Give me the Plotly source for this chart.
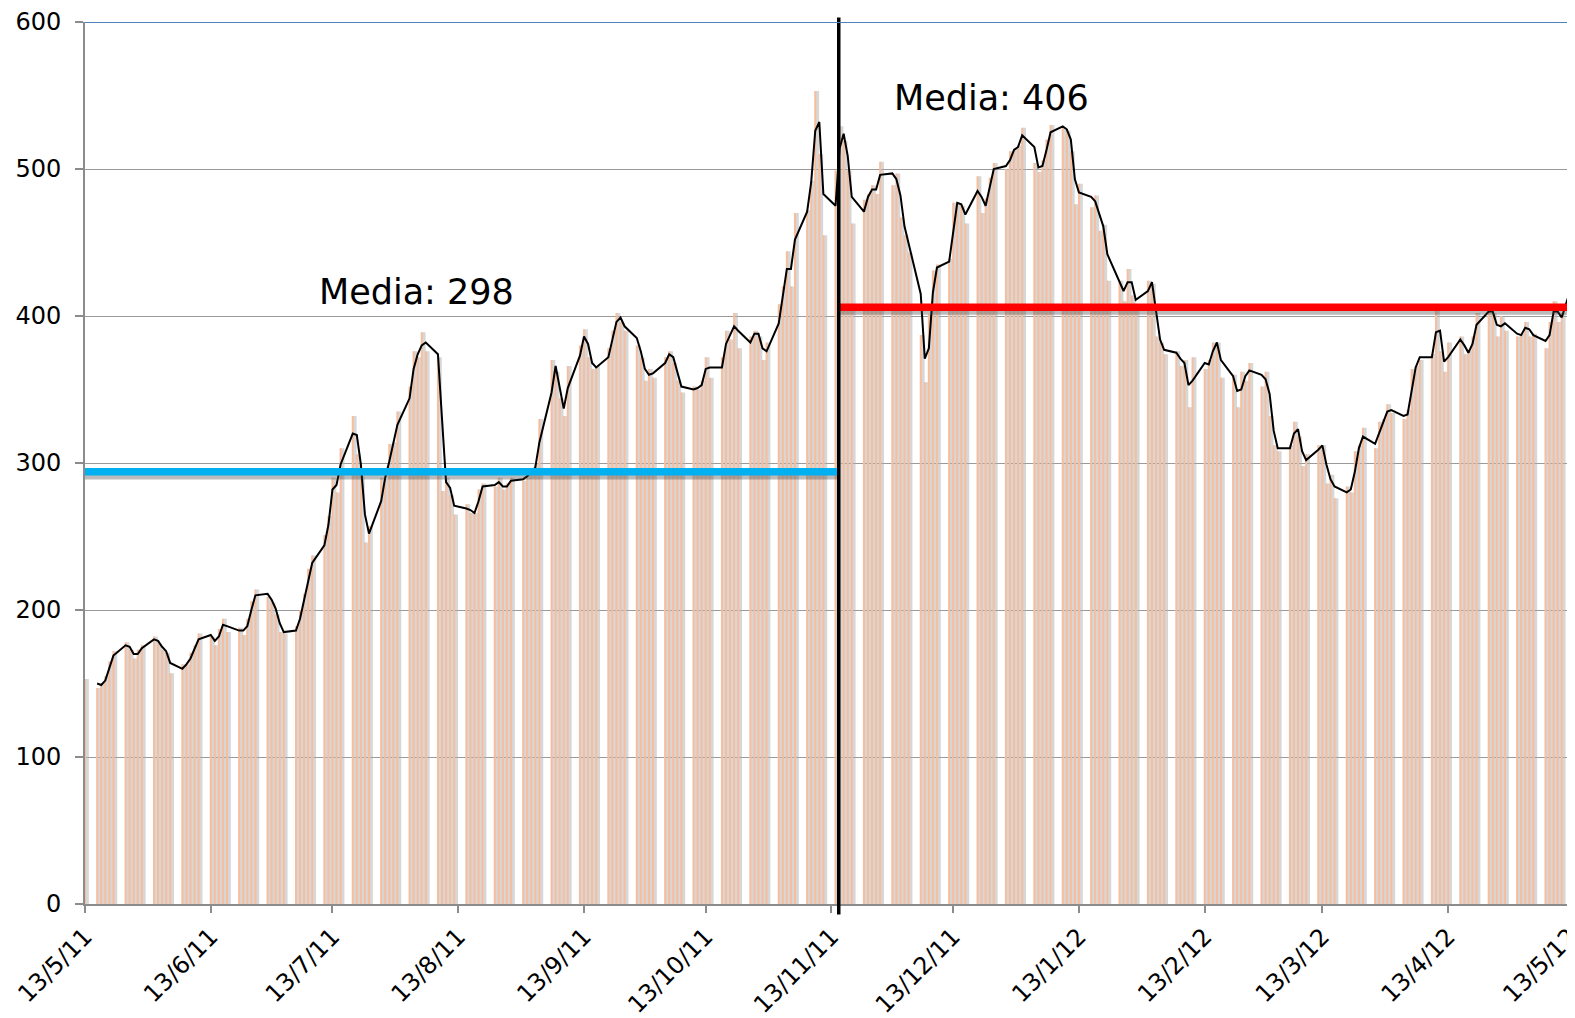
import pandas as pd
import plotly.graph_objects as go

# ---------------- data ----------------
# one value per trading day (Mon-Fri), 13/5/11 .. 14/5/12
bars_2011 = [
    153,
    147, 150, 155, 165, 172,
    178, 173, 167, 173, 176,
    182, 177, 173, 171, 157,
    163, 163, 171, 176, 184,
    182, 176, 187, 194, 185,
    188, 183, 194, 206, 214,
    209, 205, 197, 185, 184,
    189, 200, 211, 228, 237,
    251, 264, 290, 280, 310,
    332, 306, 291, 246, 257,
    290, 289, 313, 314, 335,
    352, 376, 372, 389, 376,
    372, 281, 290, 278, 265,
    272, 266, 266, 282, 286,
    284, 290, 282, 286, 290,
    288, 293, 296, 300, 330,
    370, 362, 344, 332, 366,
    380, 391, 372, 364, 366,
    378, 390, 402, 396, 390,
    380, 372, 356, 364, 358,
    372, 376, 368, 356, 348,
    352, 350, 356, 372, 358,
    372, 390, 384, 402, 378,
    386, 390, 386, 370, 382,
    408, 420, 444, 420, 470,
    472, 492, 553, 510, 455,
]
bars_2012 = [
    499, 529, 519, 499, 463,
    479, 483, 489, 483, 505,
    489, 497, 467, 455, 443,
    387, 355, 401, 431, 435,
    439, 477, 477, 475, 463,
    495, 470, 480, 494, 504,
    500, 512, 514, 516, 528,
    504, 498, 506, 520, 530,
    528, 526, 512, 476, 490,
    474, 482, 458, 462, 424,
    424, 410, 432, 414, 408,
    424, 422, 386, 382, 374,
    376, 366, 370, 338, 372,
    364, 370, 382, 382, 358,
    360, 338, 362, 356, 368,
    352, 362, 332, 312, 308,
    312, 328, 318, 298, 306,
    312, 312, 286, 292, 276,
    284, 280, 308, 312, 324,
    310, 328, 330, 340, 334,
    330, 336, 364, 366, 370,
    374, 404, 376, 362, 382,
    386, 374, 376, 386, 402,
    404, 402, 386, 400, 390,
    386, 388, 396, 386, 388,
    378, 396, 410, 396, 402,
    440,
]
# black trend line (2-day moving average as drawn in the chart)
trend_2011 = [
    None,
    150, 149, 152, 160, 169,
    176, 175, 170, 170, 174,
    180, 179, 175, 172, 164,
    160, 163, 167, 174, 180,
    183, 179, 182, 190, 189,
    186, 186, 189, 200, 210,
    211, 207, 201, 191, 185,
    186, 194, 206, 219, 232,
    244, 258, 282, 285, 299,
    320, 319, 299, 265, 252,
    274, 290, 301, 313, 326,
    344, 364, 374, 380, 382,
    374, 330, 287, 283, 271,
    269, 268, 266, 274, 284,
    285, 287, 284, 284, 288,
    289, 291, 294, 297, 314,
    348, 366, 352, 337, 351,
    373, 386, 381, 368, 365,
    372, 384, 396, 399, 393,
    385, 376, 364, 360, 361,
    368, 374, 372, 362, 352,
    350, 351, 353, 364, 365,
    365, 381, 387, 393, 390,
    382, 388, 388, 378, 376,
    395, 413, 432, 432, 452,
    471, 491, 526, 532, 483,
]
trend_2012 = [
    475, 514, 524, 509, 481,
    471, 481, 486, 486, 496,
    497, 493, 482, 461, 449,
    415, 371, 378, 416, 433,
    437, 458, 477, 476, 469,
    485, 481, 475, 488, 500,
    502, 506, 513, 515, 523,
    515, 501, 502, 513, 525,
    529, 527, 520, 493, 484,
    481, 478, 470, 461, 442,
    424, 417, 423, 423, 411,
    417, 423, 403, 384, 377,
    375, 371, 368, 353, 356,
    368, 367, 376, 382, 370,
    359, 349, 350, 359, 363,
    360, 357, 347, 322, 310,
    310, 320, 323, 308, 302,
    309, 312, 299, 289, 284,
    280, 282, 294, 310, 318,
    313, 320, 328, 335, 336,
    332, 333, 350, 365, 372,
    372, 389, 390, 369, 372,
    384, 380, 375, 381, 394,
    403, 403, 394, 393, 395,
    388, 387, 392, 391, 387,
    383, 387, 403, 403, 399,
    425,
]

first_day = "2011-05-13"
last_day = "2012-05-14"
split_day = "2011-11-14 19:00"
axis_end = "2012-05-14 06:30"

mean_before = 294
mean_after = 406
label_before = "Media: 298"
label_after = "Media: 406"
label_before_pos = ("2011-08-02 20:00", 416)
label_after_pos = ("2011-12-22 12:00", 548)

tick_dates = ["2011-05-13", "2011-06-13", "2011-07-13", "2011-08-13", "2011-09-13",
              "2011-10-13", "2011-11-13", "2011-12-13", "2012-01-13", "2012-02-13",
              "2012-03-13", "2012-04-13", "2012-05-13"]
tick_labels = ["13/5/11", "13/6/11", "13/7/11", "13/8/11", "13/9/11", "13/10/11",
               "13/11/11", "13/12/11", "13/1/12", "13/2/12", "13/3/12", "13/4/12",
               "13/5/12"]
y_ticks = [0, 100, 200, 300, 400, 500, 600]

# ---------------- figure ----------------
bars = bars_2011 + bars_2012
trend = trend_2011 + trend_2012
dates = pd.bdate_range(first_day, last_day)[:len(bars)]

DAY = 86400000
FONT = "DejaVu Sans"
SHADOW_DY = 2.8

fig = go.Figure()
# soft grey shadow of each bar
fig.add_trace(go.Bar(x=dates, y=bars, width=1.0 * DAY, offset=-0.05 * DAY,
                     marker=dict(color="rgba(175,175,175,0.5)", line=dict(width=0)),
                     hoverinfo="skip", showlegend=False))
# peach bars
fig.add_trace(go.Bar(x=dates, y=bars, width=0.5 * DAY, offset=-0.25 * DAY,
                     marker=dict(color="#F6BE9E", line=dict(width=0)),
                     showlegend=False))
# trend line
fig.add_trace(go.Scatter(x=dates, y=trend, mode="lines",
                         line=dict(color="black", width=2),
                         connectgaps=False, showlegend=False))

# mean lines with a drop shadow
for x0, x1, m, col in [(first_day, split_day, mean_before, "#00B0F0"),
                       (split_day, axis_end, mean_after, "#FF0000")]:
    fig.add_trace(go.Scatter(x=[x0, x1], y=[m - SHADOW_DY, m - SHADOW_DY], mode="lines",
                             line=dict(color="rgba(60,60,60,0.35)", width=7),
                             hoverinfo="skip", showlegend=False))
    fig.add_trace(go.Scatter(x=[x0, x1], y=[m, m], mode="lines",
                             line=dict(color=col, width=7.5), showlegend=False))

# vertical split line
fig.add_shape(type="line", xref="x", yref="paper", x0=split_day, x1=split_day,
              y0=-0.012, y1=1.005, line=dict(color="black", width=3.5), layer="above")
# blue top border at 600
fig.add_shape(type="line", xref="paper", yref="y", x0=0, x1=1, y0=600, y1=600,
              line=dict(color="#4F81BD", width=2), layer="above")

for (px, py), txt in [(label_before_pos, label_before), (label_after_pos, label_after)]:
    fig.add_annotation(x=px, y=py, text=txt, showarrow=False,
                       font=dict(family=FONT, size=35, color="black"),
                       xanchor="center", yanchor="middle")

# the page body adds an 8px offset, so the figure is sized to fit the window
fig.update_layout(
    width=1567, height=1010,
    margin=dict(l=77, r=0, t=14, b=114),
    paper_bgcolor="white", plot_bgcolor="white",
    barmode="overlay",
    font=dict(family=FONT, size=24, color="black"),
    showlegend=False,
)
fig.update_xaxes(
    type="date", range=[first_day, axis_end], automargin=False,
    tickmode="array", tickvals=tick_dates, ticktext=tick_labels, tickangle=-45,
    ticks="outside", ticklen=7, tickwidth=1.5, tickcolor="#8C8C8C",
    showline=True, linecolor="#8C8C8C", linewidth=2,
    showgrid=False, zeroline=False, ticklabeloverflow="allow",
    tickfont=dict(family=FONT, size=24, color="black"),
)
fig.update_yaxes(
    range=[0, 600], tickmode="array", tickvals=y_ticks, automargin=False,
    ticks="outside", ticklen=8, tickwidth=1.5, tickcolor="#8C8C8C",
    showline=True, linecolor="#8C8C8C", linewidth=2,
    showgrid=True, gridcolor="#9A9A9A", gridwidth=1, zeroline=False,
    tickfont=dict(family=FONT, size=24, color="black"),
    ticklabelstandoff=9, ticklabeloverflow="allow",
)

fig.write_html("out.html")
